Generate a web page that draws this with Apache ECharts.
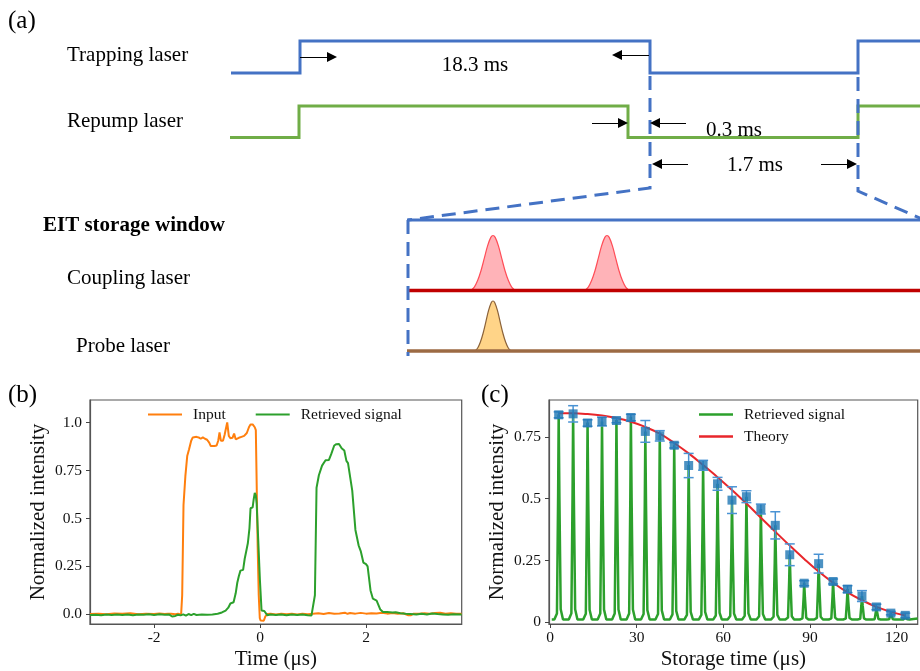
<!DOCTYPE html>
<html><head><meta charset="utf-8">
<script src="https://cdn.jsdelivr.net/npm/echarts@6/dist/echarts.min.js"></script>
<style>html,body{margin:0;padding:0;background:#fff}#c{width:920px;height:671px}</style>
</head><body><div id="c"></div><script>
// ---------- Panel (a): timing schematic (diagram units) ----------
const trappingWave = [[231,73],[300,73],[300,41],[650,41],[650,73],[858,73],[858,41],[920,41]];
const repumpWave   = [[230,137.5],[299,137.5],[299,106],[628,106],[628,137.5],[858,137.5],[858,106],[920,106]];
const zoomLeft  = [[650,76],[650,188],[408,220]];
const zoomRight = [[858,77],[858,191],[922,219]];
const windowTop  = [[407,220],[920,220]];
const windowLeft = [[408,220],[408,356]];
const couplingBase = [[407,0],[920,0]];
const probeBase    = [[407,0],[920,0]];
const arrowSegments = [
  [[300,57],[332,57]], [[649,55],[617,55]],
  [[592,123],[623,123]], [[686,123],[655,123]],
  [[688,164],[657,164]], [[821,164],[852,164]]
];
const couplingPulseCenters = [493, 607];
const probePulseCenters = [493];
const pulseProfile = [[-1,0],[-0.85,0.06],[-0.7,0.18],[-0.55,0.355],[-0.4,0.578],[-0.25,0.807],[-0.1,0.966],[0,1],[0.1,0.966],[0.25,0.807],[0.4,0.578],[0.55,0.355],[0.7,0.18],[0.85,0.06],[1,0]];
const couplingHalfWidth = 22, probeHalfWidth = 18;

// ---------- Panel (b): input and retrieved pulses ----------
const inputSignal = [[-3.21,0.002],[-3.05,0.004],[-2.9,0.001],[-2.75,0.005],[-2.6,0.003],[-2.45,0.006],[-2.3,0.001],[-2.15,0.004],[-2.0,0.002],[-1.9,0.005],[-1.8,0.002],[-1.74,0.004],[-1.71,0.013],[-1.68,0.003],[-1.6,0.001],[-1.55,0.003],[-1.49,0.0],[-1.47,0.1],[-1.445,0.57],[-1.41,0.72],[-1.375,0.825],[-1.34,0.86],[-1.3,0.905],[-1.27,0.922],[-1.2,0.925],[-1.16,0.922],[-1.12,0.915],[-1.08,0.922],[-1.04,0.915],[-1.0,0.91],[-0.96,0.895],[-0.93,0.877],[-0.86,0.877],[-0.82,0.88],[-0.79,0.905],[-0.765,0.948],[-0.74,0.905],[-0.7,0.905],[-0.67,0.935],[-0.62,1.0],[-0.59,0.93],[-0.56,0.918],[-0.52,0.92],[-0.49,0.942],[-0.46,0.912],[-0.43,0.905],[-0.4,0.92],[-0.35,0.925],[-0.3,0.93],[-0.25,0.945],[-0.21,0.975],[-0.18,0.99],[-0.14,0.99],[-0.1,0.975],[-0.08,0.96],[-0.065,0.7],[-0.045,0.35],[-0.025,0.1],[-0.005,-0.02],[0.01,-0.032],[0.07,-0.033],[0.1,-0.01],[0.14,0.002],[0.2,0.003],[0.3,0.0],[0.4,0.004],[0.5,0.001],[0.6,0.003],[0.7,0.0],[0.8,0.004],[0.9,0.001],[1.0,0.004],[1.1,0.006],[1.2,0.002],[1.3,0.007],[1.4,0.004],[1.5,0.005],[1.6,0.009],[1.65,0.003],[1.7,0.007],[1.8,0.004],[1.9,0.008],[2.0,0.004],[2.1,0.006],[2.2,0.005],[2.3,0.008],[2.4,0.004],[2.5,0.007],[2.6,0.003],[2.7,0.006],[2.8,-0.005],[2.85,-0.004],[2.9,0.004],[3.0,0.003],[3.1,0.006],[3.2,0.004],[3.3,0.007],[3.4,0.009],[3.5,0.004],[3.6,0.006],[3.7,0.003],[3.806,0.004]];
const retrievedPulse = [[-3.21,-0.003],[-3.1,-0.002],[-3.0,-0.004],[-2.9,0.0],[-2.8,-0.003],[-2.7,-0.001],[-2.6,-0.003],[-2.5,0.0],[-2.4,-0.004],[-2.3,-0.001],[-2.2,-0.002],[-2.1,0.001],[-2.0,-0.003],[-1.9,0.001],[-1.8,-0.002],[-1.72,0.0],[-1.66,-0.011],[-1.6,-0.008],[-1.55,-0.002],[-1.5,-0.005],[-1.45,0.0],[-1.4,-0.006],[-1.35,0.002],[-1.3,-0.004],[-1.25,0.003],[-1.2,-0.003],[-1.1,-0.001],[-1.0,-0.002],[-0.9,0.0],[-0.8,0.003],[-0.72,0.01],[-0.65,0.02],[-0.6,0.035],[-0.56,0.057],[-0.5,0.063],[-0.46,0.11],[-0.43,0.165],[-0.4,0.2],[-0.37,0.228],[-0.32,0.232],[-0.29,0.29],[-0.26,0.33],[-0.23,0.372],[-0.2,0.45],[-0.18,0.553],[-0.14,0.558],[-0.12,0.6],[-0.1,0.633],[-0.08,0.62],[-0.065,0.58],[-0.035,0.39],[-0.003,0.18],[0.028,0.02],[0.08,0.018],[0.1,0.01],[0.135,-0.004],[0.2,0.0],[0.3,-0.003],[0.4,0.0],[0.5,-0.004],[0.6,-0.001],[0.7,-0.003],[0.8,0.0],[0.9,-0.004],[0.97,-0.006],[1.0,0.0],[1.035,0.1],[1.066,0.66],[1.11,0.725],[1.17,0.775],[1.236,0.803],[1.3,0.805],[1.343,0.835],[1.4,0.88],[1.44,0.887],[1.49,0.888],[1.54,0.866],[1.59,0.854],[1.63,0.8],[1.66,0.788],[1.69,0.78],[1.74,0.645],[1.8,0.44],[1.86,0.36],[1.9,0.33],[1.95,0.27],[2.0,0.262],[2.03,0.25],[2.085,0.125],[2.13,0.082],[2.2,0.072],[2.27,0.025],[2.32,0.013],[2.4,0.012],[2.5,0.01],[2.56,0.011],[2.65,0.006],[2.75,0.003],[2.84,0.002],[2.95,0.0],[3.05,0.003],[3.15,-0.001],[3.25,0.005],[3.35,0.002],[3.45,0.0],[3.55,-0.002],[3.65,0.001],[3.806,-0.001]];
const bXTicks = [-2, 0, 2];
const bYTicks = [0, 0.25, 0.5, 0.75, 1.0];
const bYTickLabels = ['0.0', '0.25', '0.5', '0.75', '1.0'];

// ---------- Panel (c): storage time scan ----------
const storageTimes = [3,8,13,18,23,28,33,38,43,48,53,58,63,68,73,78,83,88,93,98,103,108,113,118,123];
const measuredIntensity = [0.839,0.843,0.806,0.812,0.816,0.828,0.772,0.754,0.716,0.634,0.635,0.560,0.494,0.508,0.458,0.392,0.273,0.158,0.237,0.165,0.134,0.106,0.062,0.037,0.028];
const errorHalfWidth = [0.012,0.033,0.013,0.018,0.009,0.013,0.044,0.021,0.011,0.049,0.020,0.026,0.054,0.024,0.020,0.055,0.044,0.010,0.038,0.010,0.014,0.022,0.011,0.007,0.009];
const signalPeaks = [0.84,0.845,0.808,0.812,0.818,0.83,0.772,0.756,0.716,0.636,0.636,0.56,0.495,0.508,0.458,0.392,0.274,0.16,0.237,0.165,0.134,0.106,0.062,0.037,0.028];
const spikeProfile = [[-1.5,0],[-0.6,0.03],[-0.2,0.6],[0,1],[0.25,0.6],[0.7,0.05],[1.5,0]];
const signalBaseline = 0.011;
const signalSpan = [0.6, 127.3];
const theoryTimes = [3,8,13,18,23,28,33,38,43,48,53,58,63,68,73,78,83,88,93,98,103,108,113,118,123];
const theoryValues = [0.845,0.845,0.842,0.836,0.826,0.811,0.79,0.763,0.725,0.683,0.636,0.587,0.535,0.48,0.423,0.366,0.31,0.256,0.205,0.16,0.121,0.089,0.062,0.042,0.027];
const cXTicks = [0, 30, 60, 90, 120];
const cYTicks = [0, 0.25, 0.5, 0.75];
const cYTickLabels = ['0', '0.25', '0.5', '0.75'];

// ---------- build ----------
const FONT = '"Liberation Serif","Times New Roman",serif';
function pulseData(centers, hw){
  const out = [];
  centers.forEach(c => { pulseProfile.forEach(([u,f]) => out.push([c + u*hw, f])); out.push([c + hw + 0.01, null]); });
  return out;
}
function buildSignal(){
  const pts = [[signalSpan[0], signalBaseline]];
  storageTimes.forEach((t,i) => spikeProfile.forEach(([dt,f]) => pts.push([t+dt, signalBaseline + f*(signalPeaks[i]-signalBaseline)])));
  pts.push([signalSpan[1], 0.015]);
  return pts;
}
const chart = echarts.init(document.getElementById('c'), null, {renderer:'canvas'});
const txt = (text, x, y, size, bold, align) => ({type:'text', x:x, y:y, style:{text:text, font:(bold?'bold ':'')+size+'px '+FONT, fill:'#000', textAlign:align||'left', textVerticalAlign:'middle', align:align||'left', verticalAlign:'middle'}});
const schemLine = (data, color, dashed, z) => ({type:'line', xAxisIndex:0, yAxisIndex:0, data:data, showSymbol:false, symbol:'none', silent:true, z:z||2,
  lineStyle:{color:color, width:3, type: dashed ? [14,8] : 'solid', cap:'butt', join:'miter'}, clip:false});
const axisCommon = {splitLine:{show:false}, axisLine:{show:true, onZero:false, lineStyle:{color:'#555', width:1.2}}};
const nameStyle = {fontFamily:FONT, fontSize:21, color:'#111'};
const labelStyle = {fontFamily:FONT, fontSize:15.5, color:'#111'};

const option = {
  animation:false,
  backgroundColor:'#fff',
  grid:[
    {left:0, top:0, width:920, height:671},
    {left:0, top:230, width:920, height:60.5},
    {left:0, top:296, width:920, height:55},
    {left:90, top:400, width:371.7, height:225, show:true, borderColor:'#555', borderWidth:1.2},
    {left:549, top:400, width:368.7, height:225, show:true, borderColor:'#555', borderWidth:1.2}
  ],
  xAxis:[
    {gridIndex:0, type:'value', min:0, max:920, show:false},
    {gridIndex:1, type:'value', min:0, max:920, show:false},
    {gridIndex:2, type:'value', min:0, max:920, show:false},
    Object.assign({gridIndex:3, type:'value', min:-3.21, max:3.806,
      axisTick:{show:true, customValues:bXTicks, length:4, lineStyle:{color:'#444'}},
      axisLabel:Object.assign({customValues:bXTicks, margin:6}, labelStyle),
      name:'Time (μs)', nameLocation:'middle', nameGap:25, nameTextStyle:nameStyle}, axisCommon),
    Object.assign({gridIndex:4, type:'value', min:-0.35, max:127.3,
      axisTick:{show:true, customValues:cXTicks, length:4, lineStyle:{color:'#444'}},
      axisLabel:Object.assign({customValues:cXTicks, margin:6}, labelStyle),
      name:'Storage time (μs)', nameLocation:'middle', nameGap:25, nameTextStyle:nameStyle}, axisCommon)
  ],
  yAxis:[
    {gridIndex:0, type:'value', min:0, max:671, inverse:true, show:false},
    {gridIndex:1, type:'value', min:0, max:1.1, show:false},
    {gridIndex:2, type:'value', min:0, max:1.1, show:false},
    Object.assign({gridIndex:3, type:'value', min:-0.05, max:1.117,
      axisTick:{show:true, customValues:bYTicks, length:4, lineStyle:{color:'#444'}},
      axisLabel:Object.assign({customValues:bYTicks, margin:8, formatter:v => bYTickLabels[bYTicks.indexOf(v)]}, labelStyle),
      name:'Normalized intensity', nameLocation:'middle', nameRotate:90, nameGap:41, nameTextStyle:nameStyle}, axisCommon),
    Object.assign({gridIndex:4, type:'value', min:-0.007, max:0.899,
      axisTick:{show:true, customValues:cYTicks, length:4, lineStyle:{color:'#444'}},
      axisLabel:Object.assign({customValues:cYTicks, margin:8, formatter:v => cYTickLabels[cYTicks.indexOf(v)]}, labelStyle),
      name:'Normalized intensity', nameLocation:'middle', nameRotate:90, nameGap:41, nameTextStyle:nameStyle}, axisCommon)
  ],
  legend:[
    {data:['Input','Retrieved signal'], left:148, top:406.5, padding:0, icon:'rect', itemWidth:34, itemHeight:2, itemGap:30, selectedMode:false,
      textStyle:Object.assign({padding:[0,0,0,6]}, labelStyle)},
    {data:['Retrieved signal ','Theory'], orient:'vertical', left:699, top:406.5, padding:0, icon:'rect', itemWidth:34, itemHeight:2.5, itemGap:6, selectedMode:false,
      textStyle:Object.assign({padding:[0,0,0,6]}, labelStyle)}
  ],
  graphic:{elements:[
    txt('(a)', 8, 21, 25),
    txt('Trapping laser', 67, 55, 21),
    txt('Repump laser', 67, 121, 21),
    txt('18.3 ms', 475, 65, 21, false, 'center'),
    txt('0.3 ms', 734, 130, 21, false, 'center'),
    txt('1.7 ms', 755, 165, 21, false, 'center'),
    txt('EIT storage window', 43, 226, 21, true),
    txt('Coupling laser', 67, 278, 21),
    txt('Probe laser', 76, 346, 21),
    txt('(b)', 8, 395, 25),
    txt('(c)', 481, 395, 25)
  ]},
  series:[
    schemLine(trappingWave, '#4472C4', false, 3),
    schemLine(repumpWave, '#70AD47', false, 2),
    schemLine(zoomLeft, '#4472C4', true, 4),
    schemLine(zoomRight, '#4472C4', true, 4),
    schemLine(windowTop, '#4472C4', false, 3),
    schemLine(windowLeft, '#4472C4', true, 4),
    {type:'lines', coordinateSystem:'cartesian2d', xAxisIndex:0, yAxisIndex:0, silent:true, z:5,
      symbol:['none','triangle'], symbolSize:[8,10],
      lineStyle:{color:'#000', width:1, opacity:1},
      data: arrowSegments.map(s => ({coords:s}))},
    {type:'line', xAxisIndex:1, yAxisIndex:1, data:pulseData(couplingPulseCenters, couplingHalfWidth), smooth:0.3, showSymbol:false, symbol:'none', connectNulls:false,
      lineStyle:{color:'#FF4D57', width:1.2}, areaStyle:{color:'#FFB3B8', opacity:1}, z:2, clip:false},
    {type:'line', xAxisIndex:1, yAxisIndex:1, data:couplingBase, showSymbol:false, symbol:'none', lineStyle:{color:'#C00000', width:3.5}, z:3, clip:false},
    {type:'line', xAxisIndex:2, yAxisIndex:2, data:pulseData(probePulseCenters, probeHalfWidth), smooth:0.3, showSymbol:false, symbol:'none',
      lineStyle:{color:'#8B6239', width:1.2}, areaStyle:{color:'#FFD488', opacity:1}, z:2, clip:false},
    {type:'line', xAxisIndex:2, yAxisIndex:2, data:probeBase, showSymbol:false, symbol:'none', lineStyle:{color:'#9C6A43', width:3.5}, z:3, clip:false},

    {name:'Input', type:'line', xAxisIndex:3, yAxisIndex:3, data:inputSignal, showSymbol:false, symbol:'none', lineStyle:{color:'#ff7f0e', width:2}, itemStyle:{color:'#ff7f0e'}, z:2},
    {name:'Retrieved signal', type:'line', xAxisIndex:3, yAxisIndex:3, data:retrievedPulse, showSymbol:false, symbol:'none', lineStyle:{color:'#2ca02c', width:2}, itemStyle:{color:'#2ca02c'}, z:3},

    {name:'Retrieved signal ', type:'line', xAxisIndex:4, yAxisIndex:4, data:buildSignal(), showSymbol:false, symbol:'none', lineStyle:{color:'#2ca02c', width:2.5}, itemStyle:{color:'#2ca02c'}, z:2},
    {name:'Theory', type:'line', xAxisIndex:4, yAxisIndex:4, data:theoryTimes.map((t,i)=>[t,theoryValues[i]]), smooth:0.4, showSymbol:false, symbol:'none', lineStyle:{color:'#e8262b', width:2}, itemStyle:{color:'#e8262b'}, z:3},
    {name:'errors', type:'custom', xAxisIndex:4, yAxisIndex:4, z:4,
      data: storageTimes.map((t,i)=>[t, measuredIntensity[i]-errorHalfWidth[i], measuredIntensity[i]+errorHalfWidth[i]]),
      encode:{x:0, y:[1,2]},
      renderItem:(params, api) => {
        const x = api.value(0), lo = api.coord([x, api.value(1)]), hi = api.coord([x, api.value(2)]);
        const cw = 5, st = {stroke:'#4a93d4', lineWidth:1.5};
        return {type:'group', children:[
          {type:'line', shape:{x1:lo[0], y1:lo[1], x2:hi[0], y2:hi[1]}, style:st},
          {type:'line', shape:{x1:lo[0]-cw, y1:lo[1], x2:lo[0]+cw, y2:lo[1]}, style:st},
          {type:'line', shape:{x1:hi[0]-cw, y1:hi[1], x2:hi[0]+cw, y2:hi[1]}, style:st}
        ]};
      }},
    {name:'Measured', type:'scatter', xAxisIndex:4, yAxisIndex:4, z:5, symbol:'rect', symbolSize:9,
      itemStyle:{color:'#1f77b4'}, data: storageTimes.map((t,i)=>[t, measuredIntensity[i]])}
  ]
};
chart.setOption(option);
</script></body></html>
